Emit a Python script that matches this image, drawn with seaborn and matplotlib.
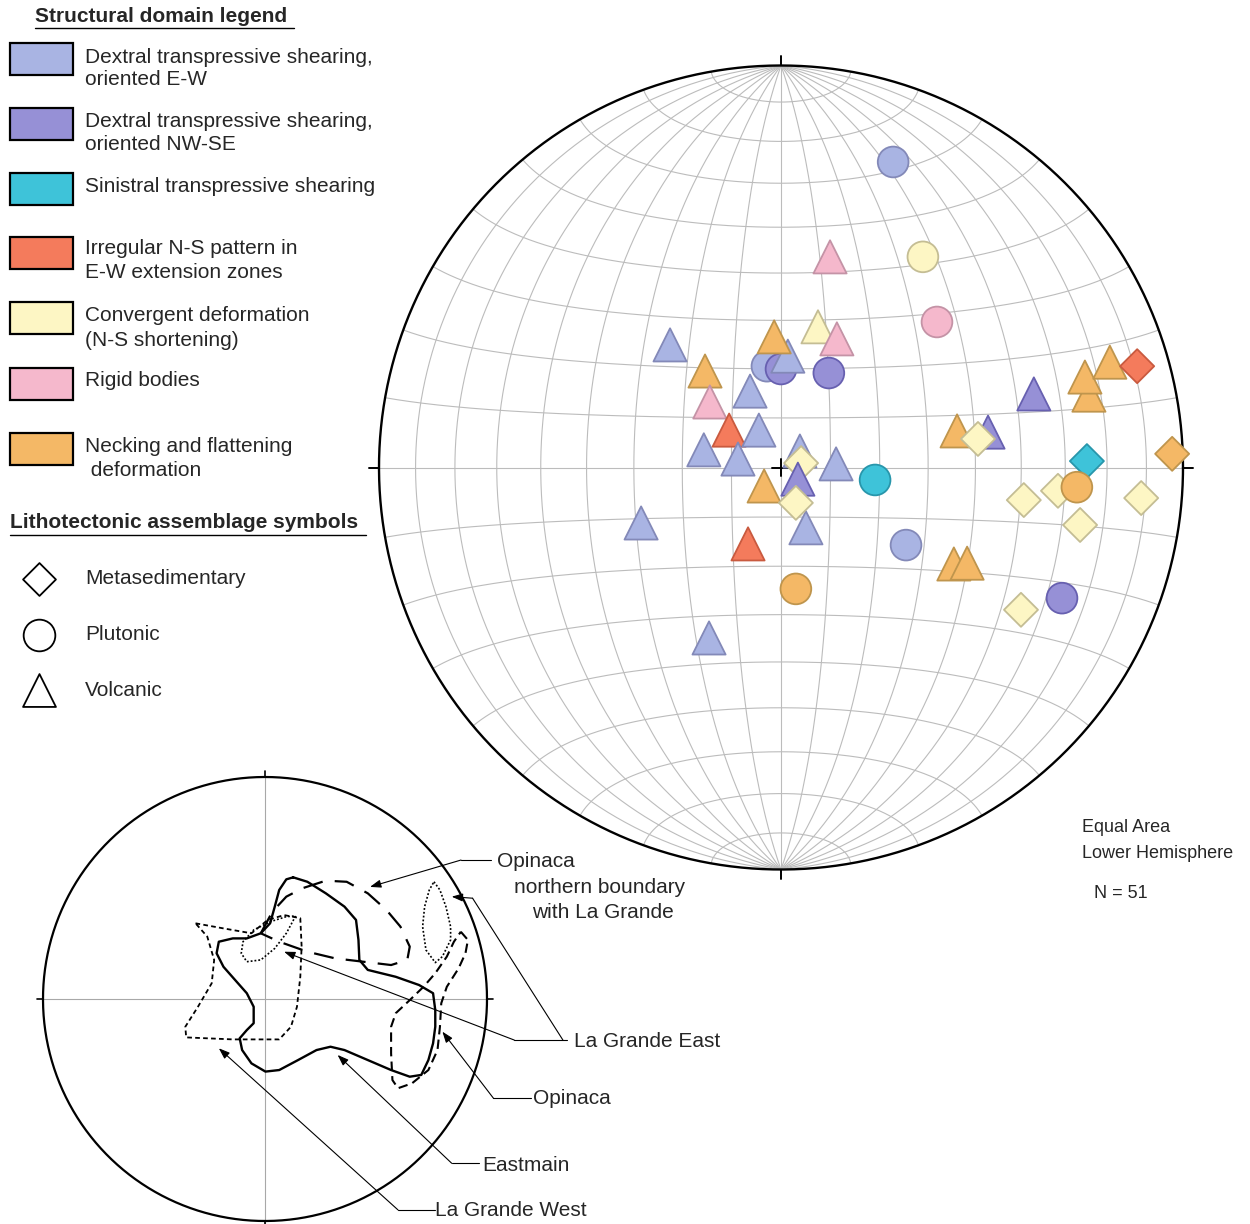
import numpy as np
import pandas as pd
import matplotlib
matplotlib.use("Agg")
import matplotlib.pyplot as plt
from matplotlib.patches import Rectangle
import seaborn as sns

# Constants
OUTPUT_FILE = 'out.png'
FIG_W, FIG_H, DPI = 1250, 1224, 100

# Structural domains, in legend order
DOMAIN_CODES = ['EW', 'NW', 'SI', 'IR', 'CV', 'RB', 'NF']
DOMAIN_LABELS = [
    ['Dextral transpressive shearing,', 'oriented E-W'],
    ['Dextral transpressive shearing,', 'oriented NW-SE'],
    ['Sinistral transpressive shearing'],
    ['Irregular N-S pattern in', 'E-W extension zones'],
    ['Convergent deformation', '(N-S shortening)'],
    ['Rigid bodies'],
    ['Necking and flattening', ' deformation'],
]
DOMAIN_FILLS = ['#a9b4e3', '#9690d6', '#3ec3d9', '#f47b5c', '#fdf6c4', '#f5b8cc', '#f4b866']
DOMAIN_EDGES = ['#8389b8', '#6760b0', '#2896ab', '#c95a3f', '#c4bd94', '#c493a6', '#bf954d']

# Lithotectonic assemblages
LITHO_CODES = ['M', 'P', 'V']
LITHO_LABELS = ['Metasedimentary', 'Plutonic', 'Volcanic']
LITHO_MARKERS = ['D', 'o', '^']

# Poles on the equal-area net (net radius = 100, x east, y north), N = 51
POLE_X = [27.9, 12.2, 35.3, 38.8, -27.6, -3.5, 0.0, 1.7, -1.7, 9.2,
          13.9, 11.9, -18.9, -7.7, -17.7, -19.2, -12.9, -5.5, -10.7, 4.7,
          5.0, 13.7, -4.2, 4.2, 6.2, 3.7, 23.4, -34.8, -8.2, 31.1,
          3.7, -17.9, 43.0, 46.3, 59.7, 69.9, 62.9, 43.8, 51.5, 49.0,
          76.6, 75.6, 81.8, 88.6, 76.1, 97.3, 68.9, 73.6, 60.4, 89.6,
          74.4]
POLE_Y = [76.0, 52.4, 52.4, 36.2, 30.5, 25.2, 24.5, 27.7, 32.5, 35.0,
          32.0, 23.5, 24.0, 19.0, 16.3, 4.4, 9.3, 9.3, 2.1, 4.1,
          1.1, 0.9, -4.6, -2.9, -15.0, -8.8, -3.1, -13.8, -19.0, -19.3,
          -30.2, -42.4, -24.0, -23.8, -35.4, -32.5, 18.3, 9.1, 8.8, 7.1,
          18.0, 22.5, 26.2, 25.2, 1.6, 3.4, -5.8, -4.9, -8.1, -7.6,
          -14.3]
POLE_DOMAIN = ['EW', 'RB', 'CV', 'RB', 'EW', 'EW', 'NW', 'EW', 'NF', 'CV',
               'RB', 'NW', 'NF', 'EW', 'RB', 'EW', 'IR', 'EW', 'EW', 'EW',
               'CV', 'EW', 'NF', 'NW', 'EW', 'CV', 'SI', 'EW', 'IR', 'EW',
               'NF', 'EW', 'NF', 'NF', 'CV', 'NW', 'NW', 'NF', 'NW', 'CV',
               'NF', 'NF', 'NF', 'IR', 'SI', 'NF', 'CV', 'NF', 'CV', 'CV',
               'CV']
POLE_LITHO = ['P', 'V', 'P', 'P', 'V', 'P', 'P', 'V', 'V', 'V',
              'V', 'P', 'V', 'V', 'V', 'V', 'V', 'V', 'V', 'V',
              'M', 'V', 'V', 'V', 'V', 'M', 'P', 'V', 'V', 'P',
              'P', 'V', 'V', 'V', 'M', 'P', 'V', 'V', 'V', 'M',
              'V', 'V', 'V', 'M', 'M', 'M', 'M', 'P', 'M', 'M',
              'M']

# Inset: outlines of the pole fields per subprovince (net radius = 1)
EASTMAIN_X = [0.127, 0.191, 0.274, 0.358, 0.410, 0.421, 0.425, 0.463, 0.589, 0.694,
              0.757, 0.767, 0.767, 0.757, 0.736, 0.704, 0.652, 0.568, 0.463, 0.358,
              0.295, 0.232, 0.149, 0.064, 0.002, -0.061, -0.103, -0.114, -0.082, -0.051,
              -0.051, -0.082, -0.135, -0.187, -0.218, -0.208, -0.145, -0.082, -0.019, 0.023,
              0.044, 0.064, 0.096]
EASTMAIN_Y = [0.548, 0.528, 0.476, 0.416, 0.356, 0.266, 0.176, 0.131, 0.100, 0.063,
              0.026, -0.050, -0.125, -0.200, -0.275, -0.342, -0.350, -0.320, -0.275, -0.230,
              -0.215, -0.230, -0.275, -0.320, -0.327, -0.290, -0.230, -0.177, -0.140, -0.109,
              -0.035, 0.026, 0.086, 0.145, 0.206, 0.258, 0.273, 0.273, 0.296, 0.341,
              0.416, 0.491, 0.539]
OPINACA_N_X = [-0.019, 0.033, 0.096, 0.169, 0.274, 0.368, 0.463, 0.547, 0.610, 0.652,
               0.641, 0.568, 0.442, 0.316, 0.191, 0.064]
OPINACA_N_Y = [0.296, 0.393, 0.461, 0.499, 0.533, 0.528, 0.476, 0.401, 0.326, 0.236,
               0.176, 0.153, 0.168, 0.183, 0.213, 0.258]
OPINACA_X = [0.882, 0.914, 0.903, 0.872, 0.819, 0.794, 0.788, 0.777, 0.736, 0.662,
             0.599, 0.574, 0.568, 0.568, 0.589, 0.652, 0.714, 0.767, 0.819, 0.851]
OPINACA_Y = [0.303, 0.266, 0.206, 0.138, 0.055, -0.019, -0.125, -0.230, -0.320, -0.380,
             -0.402, -0.365, -0.245, -0.125, -0.064, -0.005, 0.055, 0.116, 0.191, 0.258]
LG_EAST_A_X = [0.138, 0.096, 0.044, -0.019, -0.082, -0.107, -0.099, -0.051, 0.023, 0.096]
LG_EAST_A_Y = [0.374, 0.296, 0.228, 0.176, 0.168, 0.206, 0.258, 0.311, 0.348, 0.371]
LG_EAST_B_X = [0.761, 0.788, 0.815, 0.836, 0.836, 0.799, 0.767, 0.725, 0.710, 0.719, 0.740]
LG_EAST_B_Y = [0.528, 0.491, 0.416, 0.326, 0.266, 0.191, 0.164, 0.221, 0.326, 0.416, 0.491]
LG_WEST_X = [-0.313, -0.187, -0.061, 0.012, 0.086, 0.159, 0.165, 0.159, 0.144, 0.117,
             0.064, -0.145, -0.355, -0.359, -0.302, -0.240, -0.229, -0.260]
LG_WEST_Y = [0.341, 0.318, 0.296, 0.356, 0.378, 0.364, 0.236, 0.100, -0.035, -0.125,
             -0.182, -0.182, -0.173, -0.125, -0.035, 0.071, 0.176, 0.281]

GRID_COLOR = '#bcbcbc'


def equal_area(lat, lon):
    """Transverse Lambert equal-area projection onto a unit net."""
    lat, lon = np.radians(lat), np.radians(lon)
    x = np.cos(lat) * np.sin(lon)
    y = np.sin(lat)
    z = np.cos(lat) * np.cos(lon)
    k = np.sqrt(1.0 / (1.0 + z))
    return k * x, k * y


def px_axes(fig, cx, cy, radius, pad):
    """Square axes centred on pixel (cx, cy) whose unit equals radius px."""
    half = radius * pad
    rect = [(cx - half) / FIG_W, (FIG_H - cy - half) / FIG_H, 2 * half / FIG_W, 2 * half / FIG_H]
    ax = fig.add_axes(rect)
    ax.set_axis_off()
    return ax


def draw_net(ax):
    """Schmidt net with 10 degree grid, primitive, cardinal ticks and centre cross."""
    r = 100
    t = np.linspace(-90, 90, 361)
    for lon in range(-80, 81, 10):
        x, y = equal_area(t, np.full_like(t, lon))
        ax.plot(r * x, r * y, color=GRID_COLOR, lw=0.8, zorder=1)
    for lat in range(-80, 81, 10):
        x, y = equal_area(np.full_like(t, lat), t)
        ax.plot(r * x, r * y, color=GRID_COLOR, lw=0.8, zorder=1)
    a = np.linspace(0, 2 * np.pi, 720)
    ax.plot(r * np.cos(a), r * np.sin(a), color='black', lw=1.7, zorder=2)
    for dx, dy in [(0, 1), (0, -1), (1, 0), (-1, 0)]:
        ax.plot([dx * r, dx * (r + 2.4)], [dy * r, dy * (r + 2.4)], color='black', lw=1.4, zorder=2)
    ax.plot([-2.2, 2.2], [0, 0], color='black', lw=1.4, zorder=2)
    ax.plot([0, 0], [-2.2, 2.2], color='black', lw=1.4, zorder=2)
    ax.set_xlim(-105, 105)
    ax.set_ylim(-105, 105)


def plot_poles(ax):
    df = pd.DataFrame({'x': POLE_X, 'y': POLE_Y, 'domain': POLE_DOMAIN, 'litho': POLE_LITHO})
    palette = dict(zip(DOMAIN_CODES, DOMAIN_FILLS))
    edges = [dict(zip(DOMAIN_CODES, DOMAIN_EDGES))[d] for d in df['domain']]
    sns.scatterplot(data=df, x='x', y='y', hue='domain', palette=palette,
                    style='litho', markers=dict(zip(LITHO_CODES, LITHO_MARKERS)),
                    size='litho', sizes={'M': 300, 'P': 490, 'V': 570},
                    edgecolor=edges, linewidth=1.3, legend=False, ax=ax, zorder=3)
    ax.set_xlabel('')
    ax.set_ylabel('')


def draw_inset(ax):
    a = np.linspace(0, 2 * np.pi, 720)
    ax.plot([-1, 1], [0, 0], color='#a8a8a8', lw=0.8)
    ax.plot([0, 0], [-1.02, 1], color='#a8a8a8', lw=0.8, clip_on=False)
    for dx, dy in [(0, 1), (1, 0), (-1, 0), (0, -1)]:
        ax.plot([dx, dx * 1.025], [dy, dy * 1.025], color='black', lw=1.2, clip_on=False)
    ax.plot(np.cos(a), np.sin(a), color='black', lw=1.6)

    outlines = [
        (EASTMAIN_X, EASTMAIN_Y, dict(lw=1.7)),
        (OPINACA_N_X, OPINACA_N_Y, dict(lw=1.6, dashes=(9, 5.5))),
        (OPINACA_X, OPINACA_Y, dict(lw=1.5, dashes=(4.5, 2.5))),
        (LG_WEST_X, LG_WEST_Y, dict(lw=1.3, dashes=(2.6, 1.8))),
        (LG_EAST_A_X, LG_EAST_A_Y, dict(lw=1.2, dashes=(1.1, 1.2))),
        (LG_EAST_B_X, LG_EAST_B_Y, dict(lw=1.2, dashes=(1.1, 1.2))),
    ]
    for xs, ys, style in outlines:
        ax.plot(np.append(xs, xs[0]), np.append(ys, ys[0]), color='black',
                solid_joinstyle='round', dash_joinstyle='round', **style)

    # labels with elbow leaders
    leader = dict(color='black', lw=0.8, clip_on=False)
    head = dict(arrowstyle='-|>,head_length=0.55,head_width=0.2', color='black',
                lw=0.8, shrinkA=0, shrinkB=0)
    fs = 15
    ax.text(1.046, 0.618, 'Opinaca', fontsize=fs, va='center')
    ax.text(1.123, 0.501, 'northern boundary', fontsize=fs, va='center')
    ax.text(1.201, 0.389, 'with La Grande', fontsize=fs, va='center')
    ax.plot([1.018, 0.883], [0.626, 0.626], **leader)
    ax.annotate('', xy=(0.473, 0.505), xytext=(0.883, 0.626), arrowprops=head, annotation_clip=False)

    ax.text(1.390, -0.192, 'La Grande East', fontsize=fs, va='center')
    ax.plot([1.123, 1.359], [-0.185, -0.185], **leader)
    ax.annotate('', xy=(0.086, 0.213), xytext=(1.123, -0.185), arrowprops=head, annotation_clip=False)
    ax.plot([1.342, 0.935], [-0.185, 0.454], **leader)
    ax.annotate('', xy=(0.841, 0.461), xytext=(0.935, 0.454), arrowprops=head, annotation_clip=False)

    ax.text(1.207, -0.450, 'Opinaca', fontsize=fs, va='center')
    ax.plot([1.197, 1.029], [-0.447, -0.447], **leader)
    ax.annotate('', xy=(0.799, -0.147), xytext=(1.029, -0.447), arrowprops=head, annotation_clip=False)

    ax.text(0.977, -0.748, 'Eastmain', fontsize=fs, va='center')
    ax.plot([0.966, 0.841], [-0.740, -0.740], **leader)
    ax.annotate('', xy=(0.327, -0.252), xytext=(0.841, -0.740), arrowprops=head, annotation_clip=False)

    ax.text(0.767, -0.954, 'La Grande West', fontsize=fs, va='center')
    ax.plot([0.767, 0.599], [-0.950, -0.950], **leader)
    ax.annotate('', xy=(-0.208, -0.222), xytext=(0.599, -0.950), arrowprops=head, annotation_clip=False)

    ax.set_xlim(-1.05, 1.05)
    ax.set_ylim(-1.05, 1.05)


def draw_legend(fig):
    """Hand-laid legend in pixel coordinates, as in the original figure."""
    ax = fig.add_axes([0, 0, 1, 1])
    ax.set_axis_off()
    ax.set_xlim(0, FIG_W)
    ax.set_ylim(FIG_H, 0)
    fs = 15

    ax.text(35, 16, 'Structural domain legend', fontsize=fs, fontweight='bold', va='center')
    ax.plot([35, 294], [28, 28], color='black', lw=1.0)
    box_tops = [43, 108, 173, 237, 302, 368, 433]
    line_ys = [[57.5, 79.5], [121.5, 145], [187], [248, 273], [315.5, 340], [380], [446, 470.5]]
    for top, ys, lines, fill in zip(box_tops, line_ys, DOMAIN_LABELS, DOMAIN_FILLS):
        ax.add_patch(Rectangle((10, top), 63, 32, facecolor=fill, edgecolor='black', lw=1.6))
        for y, line in zip(ys, lines):
            ax.text(85, y, line, fontsize=fs, va='center')

    ax.text(10, 522, 'Lithotectonic assemblage symbols', fontsize=fs, fontweight='bold', va='center')
    ax.plot([10, 366], [535, 535], color='black', lw=1.0)
    sym_ys = [579, 635, 690]
    sym_sizes = [280, 520, 560]
    for y, label, marker, s in zip(sym_ys, LITHO_LABELS, LITHO_MARKERS, sym_sizes):
        ax.scatter([39], [y], marker=marker, s=s, facecolor='white', edgecolor='black', lw=1.3)
        ax.text(85, y, label, fontsize=fs, va='center')


def main():
    sns.set_theme(style='white')
    plt.rcParams['font.family'] = ['Liberation Sans', 'DejaVu Sans']

    fig = plt.figure(figsize=(FIG_W / DPI, FIG_H / DPI), dpi=DPI)
    fig.patch.set_facecolor('white')

    draw_legend(fig)

    net = px_axes(fig, 781, 467.5, 4.02, 105)
    draw_net(net)
    plot_poles(net)

    fig.text(1082 / FIG_W, 1 - 827 / FIG_H, 'Equal Area', fontsize=13, va='center')
    fig.text(1082 / FIG_W, 1 - 853 / FIG_H, 'Lower Hemisphere', fontsize=13, va='center')
    fig.text(1094 / FIG_W, 1 - 894 / FIG_H, 'N = 51', fontsize=13, va='center')

    inset = px_axes(fig, 265, 999, 222, 1.05)
    draw_inset(inset)

    fig.savefig(OUTPUT_FILE, dpi=DPI, facecolor='white')


if __name__ == "__main__":
    main()
